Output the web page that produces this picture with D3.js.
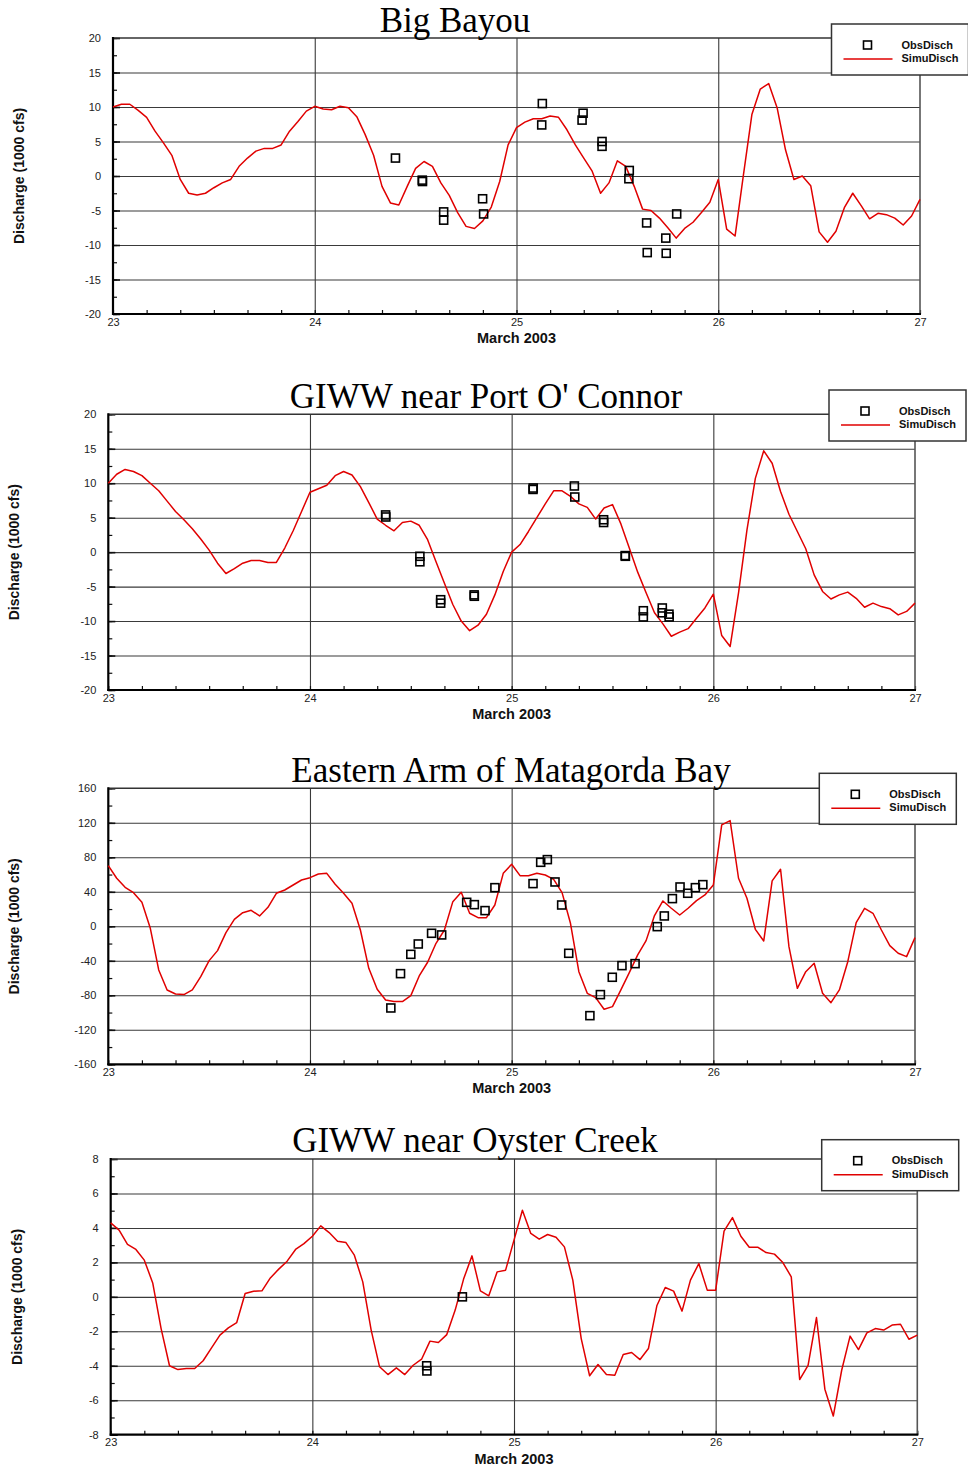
<!DOCTYPE html>
<html>
<head>
<meta charset="utf-8">
<script src="https://cdn.jsdelivr.net/npm/d3@7"></script>
<style>
  html, body { margin: 0; padding: 0; background: #fff; }
  svg { display: block; }
</style>
</head>
<body>
<svg id="chart" width="968" height="1469"></svg>
<script>
// Hourly model output, 23 March 00:00 to 27 March 00:00 (97 samples)
const simTimes = d3.range(97).map(i => 23 + i / 24);

// ---- Big Bayou ----
const bigBayouSim = [
  10.0, 10.4, 10.4, 9.5, 8.5, 6.5, 4.8, 3.0, -0.5, -2.5, -2.75, -2.5, -1.7, -1.0, -0.5, 1.4, 2.6, 3.6, 4.0, 4.0, 4.5, 6.5, 7.9, 9.4, 10.1,
  9.7, 9.6, 10.1, 9.9, 8.6, 6.0, 3.0, -1.5, -3.9, -4.2, -1.5, 1.1, 2.1, 1.4, -1.0, -2.8, -5.3, -7.3, -7.6, -6.5, -4.5, -0.8, 4.5, 7.0,
  7.8, 8.3, 8.3, 8.7, 8.5, 6.7, 4.5, 2.6, 0.7, -2.5, -1.0, 2.2, 1.4, -1.5, -4.8, -5.0, -6.1, -7.5, -9.0, -7.6, -6.7, -5.3, -3.8, -0.5,
  -7.7, -8.7, 0.2, 8.9, 12.6, 13.4, 9.9, 3.8, -0.5, 0.0, -1.4, -8.1, -9.6, -8.0, -4.6, -2.5, -4.3, -6.2, -5.4, -5.6, -6.1, -7.1, -5.8, -3.4
];
const bigBayouObsTime = [24.400, 24.533, 24.534, 24.639, 24.639, 24.832, 24.837, 25.128, 25.125, 25.330, 25.325, 25.424, 25.424, 25.559, 25.557, 25.645, 25.648, 25.740, 25.742, 25.794];
const bigBayouObs     = [2.6, -0.6, -0.8, -5.2, -6.4, -3.3, -5.5, 10.5, 7.4, 9.1, 8.1, 5.0, 4.3, 0.8, -0.4, -6.8, -11.1, -9.0, -11.2, -5.5];

// ---- GIWW near Port O'Connor ----
const portOConnorSim = [
  10.0, 11.3, 12.0, 11.7, 11.1, 10.0, 8.9, 7.4, 5.9, 4.7, 3.4, 1.9, 0.3, -1.6, -3.1, -2.4, -1.6, -1.2, -1.2, -1.5, -1.5, 0.6, 3.1, 5.9, 8.7,
  9.2, 9.7, 11.1, 11.7, 11.2, 9.5, 7.2, 4.8, 3.9, 3.1, 4.3, 4.5, 3.9, 1.8, -1.4, -4.5, -7.6, -10.0, -11.4, -10.6, -9.0, -6.2, -2.8, 0.0,
  1.1, 3.0, 5.0, 7.0, 8.9, 8.9, 8.1, 7.0, 6.5, 4.8, 6.4, 6.9, 4.1, 0.6, -2.9, -5.9, -8.8, -10.4, -12.2, -11.6, -11.1, -9.6, -8.1, -6.1,
  -12.1, -13.7, -5.9, 3.2, 10.7, 14.7, 12.9, 8.8, 5.5, 3.0, 0.5, -3.3, -5.7, -6.8, -6.2, -5.8, -6.7, -8.0, -7.4, -7.9, -8.2, -9.1, -8.6, -7.4
];
const portOConnorObsTime = [24.375, 24.376, 24.545, 24.545, 24.648, 24.648, 24.814, 24.815, 25.106, 25.107, 25.311, 25.313, 25.456, 25.456, 25.563, 25.564, 25.653, 25.653, 25.747, 25.747, 25.780, 25.781];
const portOConnorObs     = [5.4, 5.1, -0.6, -1.4, -6.9, -7.4, -6.2, -6.4, 9.1, 9.3, 9.6, 8.0, 4.7, 4.3, -0.5, -0.6, -8.5, -9.4, -8.1, -8.8, -9.0, -9.4];

// ---- Eastern Arm of Matagorda Bay ----
const easternArmSim = [
  70.3, 55.7, 45.2, 39.0, 27.8, -2.3, -50.6, -73.8, -78.5, -79.2, -73.8, -58.4, -39.8, -28.2, -7.3, 8.1, 15.8, 18.6, 12.0, 22.0, 38.3, 42.1, 47.9, 53.7, 56.4,
  60.7, 61.4, 48.7, 38.3, 26.7, -4.3, -48.7, -73.0, -85.4, -87.3, -87.3, -80.4, -57.6, -41.7, -19.7, -4.3, 28.6, 39.4, 15.1, 10.0, 10.0, 24.7, 61.4, 71.9,
  58.7, 58.7, 61.4, 59.5, 54.5, 39.0, 3.5, -52.6, -77.7, -82.7, -96.2, -93.1, -73.8, -53.7, -33.2, -16.6, 12.4, 29.4, 20.9, 13.1, 20.9, 29.8, 36.3, 47.9,
  117.5, 122.5, 55.7, 32.5, -3.5, -17.0, 52.6, 66.1, -23.6, -71.9, -52.6, -42.9, -77.7, -88.5, -73.8, -41.0, 4.3, 20.9, 15.1, -4.3, -22.4, -31.3, -35.2, -13.1
];
const easternArmObsTime = [24.401, 24.449, 24.500, 24.537, 24.603, 24.653, 24.777, 24.815, 24.868, 24.917, 25.106, 25.144, 25.177, 25.215, 25.248, 25.283, 25.388, 25.440, 25.499, 25.547, 25.612, 25.722, 25.757, 25.797, 25.835, 25.873, 25.911, 25.948];
const easternArmObs     = [-94.7, -54.9, -32.5, -20.5, -8.1, -10.0, 27.8, 25.1, 18.2, 44.8, 49.5, 74.2, 77.3, 51.4, 24.7, -31.3, -103.6, -79.2, -59.1, -45.6, -43.3, -0.4, 12.0, 32.1, 45.6, 38.3, 44.8, 48.3];

// ---- GIWW near Oyster Creek ----
const oysterCreekSim = [
  4.29, 3.87, 3.04, 2.75, 2.13, 0.81, -1.84, -4.0, -4.22, -4.16, -4.16, -3.71, -2.96, -2.22, -1.8, -1.49, 0.19, 0.33, 0.35, 1.10, 1.61, 2.07, 2.75, 3.09, 3.52,
  4.12, 3.73, 3.23, 3.15, 2.42, 0.87, -1.93, -4.06, -4.51, -4.12, -4.51, -3.97, -3.62, -2.57, -2.65, -2.19, -0.77, 1.03, 2.38, 0.35, 0.06, 1.45, 1.55, 3.29,
  5.03, 3.68, 3.35, 3.62, 3.46, 2.90, 0.97, -2.42, -4.58, -3.93, -4.51, -4.55, -3.35, -3.23, -3.64, -3.0, -0.52, 0.54, 0.33, -0.83, 0.97, 1.93, 0.39, 0.39,
  3.81, 4.60, 3.52, 2.88, 2.88, 2.57, 2.48, 1.99, 1.16, -4.80, -3.97, -1.20, -5.36, -6.92, -4.26, -2.28, -3.06, -2.09, -1.84, -1.93, -1.64, -1.59, -2.46, -2.22
];
const oysterCreekObsTime = [24.567, 24.568, 24.744];
const oysterCreekObs     = [-4.0, -4.3, 0.0];

// Axis tick values
const dayTicks = [23, 24, 25, 26, 27];
const dayMinorTicks = d3.range(0, 24 + 1).map(i => 23 + i / 6);
const ticksDischarge20 = [-20, -15, -10, -5, 0, 5, 10, 15, 20];
const ticksDischarge160 = [-160, -120, -80, -40, 0, 40, 80, 120, 160];
const ticksDischarge8 = [-8, -6, -4, -2, 0, 2, 4, 6, 8];

const legendLabels = ["ObsDisch", "SimuDisch"];
const xAxisTitle = "March 2003";
const yAxisTitle = "Discharge (1000 cfs)";

// Panel definitions (data + frame geometry)
const panels = [
  { title: "Big Bayou", sim: bigBayouSim, obsT: bigBayouObsTime, obs: bigBayouObs,
    ticks: ticksDischarge20, minorStep: 2.5,
    left: 113, right: 920, top: 38, bottom: 314,
    titleX: 455, titleY: 32, yLabelX: 19, legX: 831.5, legY: 24 },
  { title: "GIWW near Port O' Connor", sim: portOConnorSim, obsT: portOConnorObsTime, obs: portOConnorObs,
    ticks: ticksDischarge20, minorStep: 2.5,
    left: 108.3, right: 915, top: 414.3, bottom: 690,
    titleX: 486, titleY: 408, yLabelX: 14.5, legX: 829, legY: 390 },
  { title: "Eastern Arm of Matagorda Bay", sim: easternArmSim, obsT: easternArmObsTime, obs: easternArmObs,
    ticks: ticksDischarge160, minorStep: 20,
    left: 108.3, right: 915, top: 788.3, bottom: 1064.3,
    titleX: 511, titleY: 782, yLabelX: 14.5, legX: 819.3, legY: 773.3 },
  { title: "GIWW near Oyster Creek", sim: oysterCreekSim, obsT: oysterCreekObsTime, obs: oysterCreekObs,
    ticks: ticksDischarge8, minorStep: 1,
    left: 110.7, right: 917.3, top: 1159, bottom: 1434.7,
    titleX: 475, titleY: 1152, yLabelX: 16.7, legX: 821.7, legY: 1139.7 }
];

const svg = d3.select("#chart");
const RED = "#e00000";
const SANS = "'Liberation Sans', Arial, sans-serif";
const SERIF = "'Liberation Serif', 'Times New Roman', serif";
const plainNumber = d => String(d);   // ASCII hyphen for negatives

panels.forEach(p => {
  const W = p.right - p.left, H = p.bottom - p.top;
  const lo = p.ticks[0], hi = p.ticks[p.ticks.length - 1];
  const x = d3.scaleLinear().domain([23, 27]).range([0, W]);
  const y = d3.scaleLinear().domain([lo, hi]).range([H, 0]);
  const minor = d3.range(lo, hi + p.minorStep / 2, p.minorStep);

  const g = svg.append("g").attr("transform", `translate(${p.left},${p.top})`);

  // horizontal grid
  g.append("g")
    .call(d3.axisLeft(y).tickValues(p.ticks.slice(1, -1)).tickSize(-W).tickFormat(""))
    .call(a => a.select(".domain").remove())
    .call(a => a.selectAll("line").attr("stroke", "#3a3a3a").attr("stroke-width", 1.1));

  // vertical day grid
  g.append("g").attr("transform", `translate(0,${H})`)
    .call(d3.axisBottom(x).tickValues(dayTicks.slice(1, -1)).tickSize(H).tickFormat(""))
    .call(a => a.select(".domain").remove())
    .call(a => a.selectAll("line").attr("stroke", "#3a3a3a").attr("stroke-width", 1.1).attr("y2", -H));

  // minor ticks (inward)
  g.append("g")
    .call(d3.axisLeft(y).tickValues(minor).tickSize(-4).tickFormat(""))
    .call(a => a.select(".domain").remove())
    .call(a => a.selectAll("line").attr("stroke", "#111").attr("stroke-width", 1.2));
  g.append("g")
    .call(d3.axisLeft(y).tickValues(p.ticks).tickSize(-7).tickFormat(""))
    .call(a => a.select(".domain").remove())
    .call(a => a.selectAll("line").attr("stroke", "#111").attr("stroke-width", 1.6));
  g.append("g").attr("transform", `translate(0,${H})`)
    .call(d3.axisBottom(x).tickValues(dayMinorTicks).tickSize(-4).tickFormat(""))
    .call(a => a.select(".domain").remove())
    .call(a => a.selectAll("line").attr("stroke", "#111").attr("stroke-width", 1.2));

  // frame: top/right thinner, left/bottom heavy
  g.append("line").attr("x1", 0).attr("x2", W).attr("y1", 0).attr("y2", 0)
    .attr("stroke", "#333").attr("stroke-width", 1.6);
  g.append("line").attr("x1", W).attr("x2", W).attr("y1", 0).attr("y2", H)
    .attr("stroke", "#555").attr("stroke-width", 1.6);
  g.append("line").attr("x1", 0).attr("x2", 0).attr("y1", -1).attr("y2", H + 1)
    .attr("stroke", "#000").attr("stroke-width", 2.2);
  g.append("line").attr("x1", -1).attr("x2", W + 1).attr("y1", H).attr("y2", H)
    .attr("stroke", "#000").attr("stroke-width", 2.2);

  // tick labels
  g.append("g")
    .call(d3.axisLeft(y).tickValues(p.ticks).tickSize(0).tickPadding(12).tickFormat(plainNumber))
    .call(a => a.select(".domain").remove())
    .call(a => a.selectAll("text").attr("font-family", SANS).attr("font-size", 11).attr("fill", "#222"));
  g.append("g").attr("transform", `translate(0,${H})`)
    .call(d3.axisBottom(x).tickValues(dayTicks).tickSize(0).tickPadding(4).tickFormat(plainNumber))
    .call(a => a.select(".domain").remove())
    .call(a => a.selectAll("text").attr("font-family", SANS).attr("font-size", 11).attr("fill", "#222"));

  // simulated discharge
  const line = d3.line().x((d, i) => x(simTimes[i])).y(d => y(d));
  g.append("path").datum(p.sim)
    .attr("d", line)
    .attr("fill", "none").attr("stroke", RED).attr("stroke-width", 1.5)
    .attr("stroke-linejoin", "round");

  // observed discharge
  const s = 8;
  g.selectAll("rect.obs").data(p.obs).join("rect")
    .attr("class", "obs")
    .attr("x", (d, i) => x(p.obsT[i]) - s / 2)
    .attr("y", d => y(d) - s / 2)
    .attr("width", s).attr("height", s)
    .attr("fill", "none").attr("stroke", "#000").attr("stroke-width", 1.6);

  // axis titles
  svg.append("text")
    .attr("x", (p.left + p.right) / 2).attr("y", p.bottom + 29)
    .attr("text-anchor", "middle")
    .attr("font-family", SANS).attr("font-weight", "bold").attr("font-size", 14.5)
    .attr("fill", "#111")
    .text(xAxisTitle);
  svg.append("text")
    .attr("transform", `translate(${p.yLabelX},${(p.top + p.bottom) / 2}) rotate(-90)`)
    .attr("text-anchor", "middle").attr("dy", "0.35em")
    .attr("font-family", SANS).attr("font-weight", "bold").attr("font-size", 14)
    .attr("fill", "#111")
    .text(yAxisTitle);

  // panel title
  svg.append("text")
    .attr("x", p.titleX).attr("y", p.titleY)
    .attr("text-anchor", "middle")
    .attr("font-family", SERIF).attr("font-size", 35)
    .attr("fill", "#000")
    .text(p.title);

  // legend
  const lg = svg.append("g").attr("transform", `translate(${p.legX},${p.legY})`);
  lg.append("rect").attr("x", 0).attr("y", 0).attr("width", 137).attr("height", 51)
    .attr("fill", "#fff").attr("stroke", "#333").attr("stroke-width", 1.5);
  lg.append("rect").attr("x", 36 - 4).attr("y", 21 - 4).attr("width", 8).attr("height", 8)
    .attr("fill", "none").attr("stroke", "#000").attr("stroke-width", 1.6);
  lg.append("line").attr("x1", 12).attr("x2", 61).attr("y1", 35).attr("y2", 35)
    .attr("stroke", RED).attr("stroke-width", 1.5);
  lg.selectAll("text").data(legendLabels).join("text")
    .attr("x", 70).attr("y", (d, i) => 24.5 + i * 13.5)
    .attr("font-family", SANS).attr("font-weight", "bold").attr("font-size", 11)
    .attr("fill", "#111")
    .text(d => d);
});
</script>
</body>
</html>
